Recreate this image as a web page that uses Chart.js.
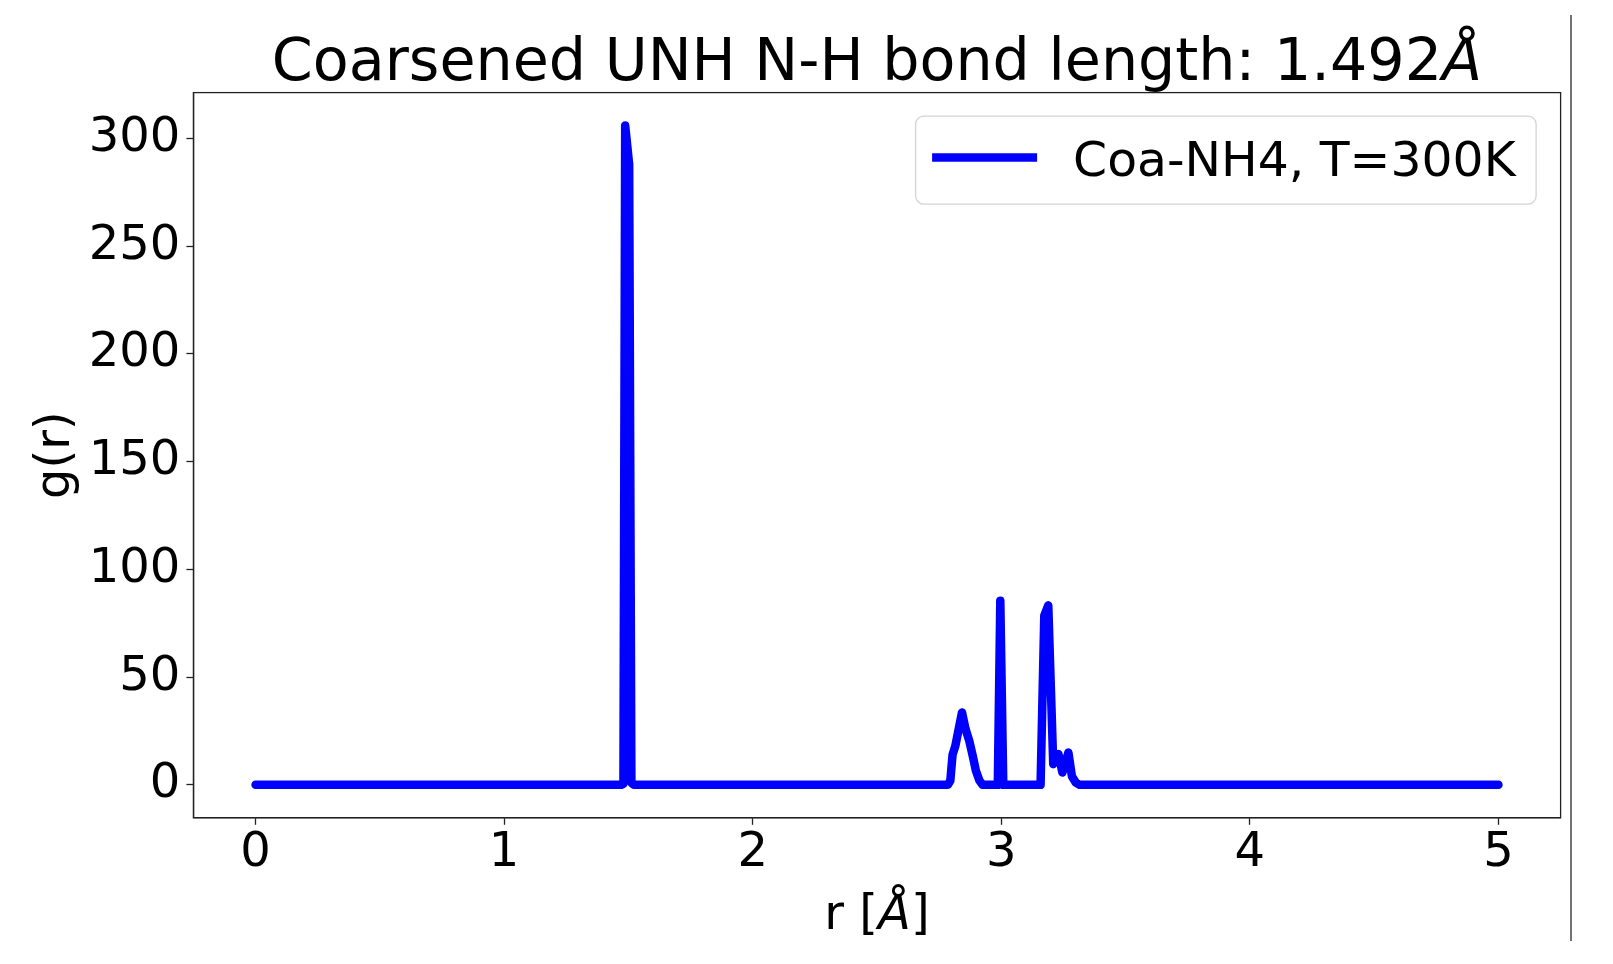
<!DOCTYPE html>
<html>
<head>
<meta charset="utf-8">
<script src="https://cdn.jsdelivr.net/npm/chart.js@4.4.0/dist/chart.umd.min.js"></script>
<style>
  html, body { margin: 0; padding: 0; background: #fff; }
  canvas { display: block; }
</style>
</head>
<body>
<canvas id="rdfChart" width="1613" height="964"></canvas>
<script>
const titleText = "Coarsened UNH N-H bond length: 1.492";
const titleUnit = "Å"; // drawn in italic, like the mathtext in the original
const seriesLabel = "Coa-NH4, T=300K";
const yAxisLabel = "g(r)";
const xAxisLabel = ["r [", "Å", "]"]; // middle part italic

const xTicks = [0, 1, 2, 3, 4, 5];
const yTicks = [0, 50, 100, 150, 200, 250, 300];

// r [Å] and g(r)
const rValues = [0, 1.472, 1.48, 1.487, 1.503, 1.512, 1.522,
  2.785, 2.795, 2.804, 2.815, 2.842, 2.856, 2.871, 2.885, 2.898, 2.912, 2.925,
  2.986, 2.996, 3.008,
  3.158, 3.173, 3.189, 3.209, 3.23, 3.246, 3.27, 3.284, 3.3, 3.315, 5.0];
const gValues = [0, 0, 0.5, 306, 288, 1, 0,
  0, 2, 14, 18, 33.6, 26, 20.5, 13.5, 6.5, 2, 0,
  0, 85.5, 0,
  0, 78.6, 83.3, 9.6, 14.3, 5.7, 15, 4, 1, 0, 0];

const FONT = "'DejaVu Sans', 'Liberation Sans', sans-serif";
const lineColor = "#0000ff";

// matplotlib-like extras: title, framed axes, legend box, x label
const mplDecor = {
  id: "mplDecor",
  afterDraw(chart) {
    const { ctx, chartArea } = chart;
    const { left, right, top, bottom } = chartArea;
    const cx = (left + right) / 2;
    ctx.save();

    // frame (top and right spines)
    ctx.strokeStyle = "#222";
    ctx.lineWidth = 1.3;
    ctx.strokeRect(left, top, right - left, bottom - top);

    // title with italic unit
    ctx.fillStyle = "#000";
    ctx.textBaseline = "alphabetic";
    ctx.textAlign = "left";
    const regTitle = "58.7px " + FONT;
    const itTitle = "italic 58.7px " + FONT;
    ctx.font = regTitle;
    const w1 = ctx.measureText(titleText).width;
    ctx.font = itTitle;
    const w2 = ctx.measureText(titleUnit).width;
    let tx = cx - (w1 + w2) / 2;
    ctx.font = regTitle;
    ctx.fillText(titleText, tx, 80);
    ctx.font = itTitle;
    ctx.fillText(titleUnit, tx + w1, 80);

    // x axis label
    const reg = "48px " + FONT;
    const it = "italic 48px " + FONT;
    const fonts = [reg, it, reg];
    let total = 0;
    const widths = xAxisLabel.map((s, i) => {
      ctx.font = fonts[i];
      const w = ctx.measureText(s).width;
      total += w;
      return w;
    });
    let lx = cx - total / 2;
    xAxisLabel.forEach((s, i) => {
      ctx.font = fonts[i];
      ctx.fillText(s, lx, 929);
      lx += widths[i];
    });

    // legend
    const ds = chart.data.datasets[0];
    const bx = right - 645, by = top + 23.5, bw = 620.5, bh = 88;
    ctx.beginPath();
    ctx.roundRect(bx, by, bw, bh, 8);
    ctx.fillStyle = "rgba(255,255,255,0.8)";
    ctx.fill();
    ctx.strokeStyle = "#d4d4d4";
    ctx.lineWidth = 1.3;
    ctx.stroke();
    ctx.beginPath();
    ctx.moveTo(bx + 16.5, by + 41.5);
    ctx.lineTo(bx + 121.5, by + 41.5);
    ctx.strokeStyle = ds.borderColor;
    ctx.lineWidth = ds.borderWidth;
    ctx.lineCap = "butt";
    ctx.stroke();
    ctx.fillStyle = "#000";
    ctx.font = "48.8px " + FONT;
    ctx.fillText(ds.label, bx + 157.5, by + 60);

    // page edge line on the right of the figure
    ctx.beginPath();
    ctx.moveTo(1571, 15);
    ctx.lineTo(1571, 941);
    ctx.strokeStyle = "#444";
    ctx.lineWidth = 1.5;
    ctx.stroke();

    ctx.restore();
  }
};

const ctx = document.getElementById("rdfChart").getContext("2d");
const rdfChart = new Chart(ctx, {
  type: "line",
  data: {
    datasets: [
      {
        label: seriesLabel,
        data: rValues.map((r, i) => ({ x: r, y: gValues[i] })),
        borderColor: lineColor,
        backgroundColor: lineColor,
        borderWidth: 8.5,
        borderJoinStyle: "round",
        borderCapStyle: "round",
        pointRadius: 0,
        tension: 0,
        fill: false,
      },
    ],
  },
  options: {
    responsive: false,
    animation: false,
    layout: { padding: { left: 0, top: 92.6, right: 52.4, bottom: 0 } },
    plugins: {
      legend: { display: false },
      title: { display: false },
      tooltip: { enabled: false },
    },
    scales: {
      x: {
        type: "linear",
        min: -0.25,
        max: 5.25,
        afterBuildTicks: (scale) => {
          scale.ticks = xTicks.map((v) => ({ value: v }));
        },
        afterFit: (scale) => {
          scale.height = 146.2;
        },
        ticks: {
          color: "#000",
          font: { family: FONT, size: 48 },
          padding: 0,
          maxRotation: 0,
          autoSkip: false,
        },
        grid: {
          drawOnChartArea: false,
          drawTicks: true,
          tickLength: 7,
          tickColor: "#222",
          tickWidth: 1.3,
        },
        border: { display: true, color: "#222", width: 1.3 },
      },
      y: {
        type: "linear",
        min: -15.3,
        max: 321.3,
        afterBuildTicks: (scale) => {
          scale.ticks = yTicks.map((v) => ({ value: v }));
        },
        afterFit: (scale) => {
          scale.width = 193.4;
        },
        ticks: {
          color: "#000",
          font: { family: FONT, size: 48 },
          padding: 6,
          autoSkip: false,
        },
        grid: {
          drawOnChartArea: false,
          drawTicks: true,
          tickLength: 7,
          tickColor: "#222",
          tickWidth: 1.3,
        },
        border: { display: true, color: "#222", width: 1.3 },
        title: {
          display: true,
          text: yAxisLabel,
          color: "#000",
          font: { family: FONT, size: 48 },
          padding: { top: 28, bottom: 0 },
        },
      },
    },
  },
  plugins: [mplDecor],
});
</script>
</body>
</html>
